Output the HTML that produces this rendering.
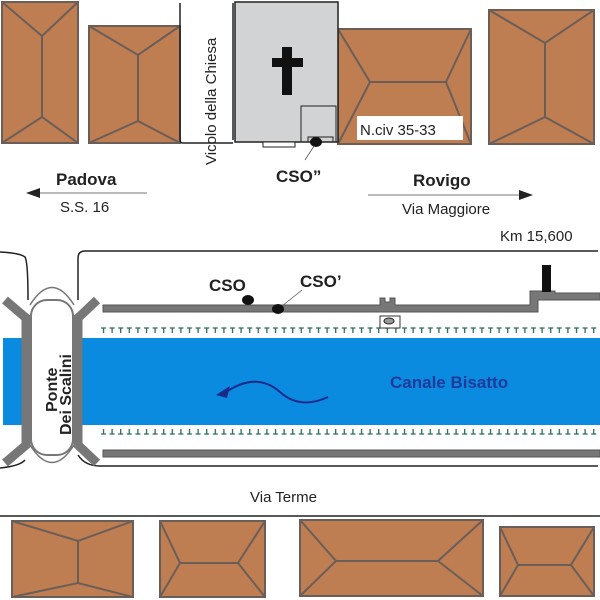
<!DOCTYPE html>
<html><head><meta charset="utf-8"><style>html,body{margin:0;padding:0;background:#fff}svg{display:block}text{font-family:"Liberation Sans",sans-serif}</style></head><body>
<svg width="600" height="600" viewBox="0 0 600 600" xmlns="http://www.w3.org/2000/svg">
<defs>
<pattern id="tt" x="100" y="327" width="8.6" height="8" patternUnits="userSpaceOnUse">
<path d="M1 1 H6 M3.5 1 V6" stroke="#2a6a5a" stroke-width="1.3" fill="none"/>
</pattern>
<pattern id="tb" x="100" y="428" width="8.6" height="8" patternUnits="userSpaceOnUse">
<path d="M1 6 H6 M3.5 1 V6" stroke="#2a6a5a" stroke-width="1.3" fill="none"/>
</pattern>
</defs>
<g fill="#bf7d52" stroke="#6b5e58" stroke-width="2">
<rect x="2" y="2" width="76" height="141"/>
<polyline fill="none" points="2,2 42,36 78,2"/><line x1="42" y1="36" x2="42" y2="117"/><polyline fill="none" points="2,143 42,117 78,143"/>
<rect x="89" y="26" width="91" height="117"/>
<polyline fill="none" points="89,26 138,55 180,26"/><line x1="138" y1="55" x2="138" y2="121"/><polyline fill="none" points="89,143 138,121 180,143"/>
<rect x="338" y="29" width="133" height="115"/>
<polyline fill="none" points="338,29 370,82 338,144"/><line x1="370" y1="82" x2="446" y2="82"/><polyline fill="none" points="471,29 446,82 471,144"/>
<rect x="489" y="10" width="105" height="134"/>
<polyline fill="none" points="489,10 545,43 594,10"/><line x1="545" y1="43" x2="545" y2="117"/><polyline fill="none" points="489,144 545,117 594,144"/>
<rect x="12" y="521" width="121" height="76"/>
<polyline fill="none" points="12,521 78,541 133,521"/><line x1="78" y1="541" x2="78" y2="583"/><polyline fill="none" points="12,597 78,583 133,597"/>
<rect x="160" y="521" width="105" height="76"/>
<polyline fill="none" points="160,521 180,563 160,597"/><line x1="180" y1="563" x2="238" y2="563"/><polyline fill="none" points="265,521 238,563 265,597"/>
<rect x="300" y="520" width="183" height="76"/>
<polyline fill="none" points="300,520 336,561 300,596"/><line x1="336" y1="561" x2="438" y2="561"/><polyline fill="none" points="483,520 438,561 483,596"/>
<rect x="500" y="527" width="94" height="69"/>
<polyline fill="none" points="500,527 518,565 500,596"/><line x1="518" y1="565" x2="571" y2="565"/><polyline fill="none" points="594,527 571,565 594,596"/>
</g>
<path d="M180 3 V140 Q180 143 183 143 H233" fill="none" stroke="#222" stroke-width="1.5"/>
<path d="M233 3 V140" fill="none" stroke="#222" stroke-width="1.5"/>
<rect x="235" y="2" width="103" height="140" fill="#d2d3d5" stroke="#222" stroke-width="1.5"/>
<rect x="301" y="106" width="35" height="36" fill="none" stroke="#222" stroke-width="1"/>
<rect x="308" y="137" width="25" height="5" fill="none" stroke="#222" stroke-width="1"/>
<rect x="263" y="142" width="32" height="5" fill="#fff" stroke="#222" stroke-width="1"/>
<rect x="282" y="47" width="10" height="48" fill="#111"/><rect x="272" y="58" width="31" height="9" fill="#111"/>
<ellipse cx="316" cy="142" rx="6" ry="5" fill="#111"/>
<line x1="314" y1="146" x2="305" y2="160" stroke="#555" stroke-width="0.8"/>
<rect x="357" y="116" width="106" height="24" fill="#fff"/>
<text x="360" y="135" font-size="15" fill="#222">N.civ 35-33</text>
<text transform="translate(216,165) rotate(-90)" font-size="15" fill="#222">Vicolo della Chiesa</text>
<text x="276" y="182" font-size="17" font-weight="bold" fill="#222">CSO”</text>
<text x="56" y="185" font-size="17" font-weight="bold" fill="#222">Padova</text>
<line x1="36" y1="193" x2="147" y2="193" stroke="#777" stroke-width="1"/><polygon points="26,193 40,188 40,198" fill="#222"/>
<text x="60" y="212" font-size="15" fill="#222">S.S. 16</text>
<text x="413" y="186" font-size="17" font-weight="bold" fill="#222">Rovigo</text>
<line x1="368" y1="195" x2="522" y2="195" stroke="#777" stroke-width="1"/><polygon points="533,195 519,190 519,200" fill="#222"/>
<text x="402" y="214" font-size="15" fill="#222">Via Maggiore</text>
<text x="500" y="241" font-size="15" fill="#222">Km 15,600</text>
<path d="M0 252 Q20 253 25 257 Q28 262 28 300" fill="none" stroke="#222" stroke-width="1.5"/>
<path d="M78 300 V258 Q78 251 85 251 H598" fill="none" stroke="#222" stroke-width="1.5"/>
<path d="M0 468 Q20 466 25 460 M78 455 Q85 466 100 466 H598" fill="none" stroke="#222" stroke-width="1.5"/>
<rect x="3" y="338" width="597" height="87" fill="#0a8be0"/>
<rect x="100" y="327" width="498" height="8" fill="url(#tt)"/>
<rect x="100" y="428" width="498" height="8" fill="url(#tb)"/>
<g fill="#777" stroke="#555" stroke-width="1">
<polygon points="103,305 380,305 380,298 385,298 385,302 390,302 390,298 395,298 395,305 530,305 530,291 555,291 555,293 600,293 600,300 538,300 538,312 103,312"/>
<rect x="103" y="450" width="497" height="7"/>
</g>
<rect x="542" y="265" width="9" height="27" fill="#111"/>
<rect x="380" y="316" width="20" height="12" fill="#fff" stroke="#333" stroke-width="1"/>
<ellipse cx="389" cy="321" rx="5" ry="3" fill="#999" stroke="#222"/>
<ellipse cx="248" cy="300" rx="6" ry="5" fill="#111"/>
<ellipse cx="278" cy="309" rx="6" ry="5" fill="#111"/>
<line x1="282" y1="306" x2="302" y2="290" stroke="#555" stroke-width="0.8"/>
<text x="209" y="291" font-size="17" font-weight="bold" fill="#222">CSO</text>
<text x="300" y="287" font-size="17" font-weight="bold" fill="#222">CSO’</text>
<text x="390" y="388" font-size="17" font-weight="bold" fill="#1e3a9a">Canale Bisatto</text>
<path d="M328 397 Q300 410 280 392 Q255 370 222 395" fill="none" stroke="#1a2a8a" stroke-width="2"/>
<polygon points="216,395 230,386 227,398" fill="#1a2a8a"/>
<g stroke="#777" stroke-width="9" fill="none">
<path d="M5 300 L26 318 V445 L5 463"/>
<path d="M97 300 L78 318 V445 L97 463"/>
</g>
<g fill="none" stroke="#777" stroke-width="1.5">
<path d="M30 305 Q52 270 74 305 M30 316 Q52 290 74 316 M30 445 Q52 480 74 445 M30 434 Q52 460 74 434"/>
</g>
<rect x="31" y="300" width="42" height="155" rx="16" fill="#fff" stroke="#777" stroke-width="2"/>
<text transform="translate(57,412) rotate(-90)" font-size="16" font-weight="bold" fill="#222">Ponte</text>
<text transform="translate(71,435) rotate(-90)" font-size="16" font-weight="bold" fill="#222">Dei Scalini</text>
<text x="250" y="502" font-size="15" fill="#222">Via Terme</text>
<line x1="0" y1="516" x2="600" y2="516" stroke="#222" stroke-width="1.5"/>
</svg>
</body></html>
